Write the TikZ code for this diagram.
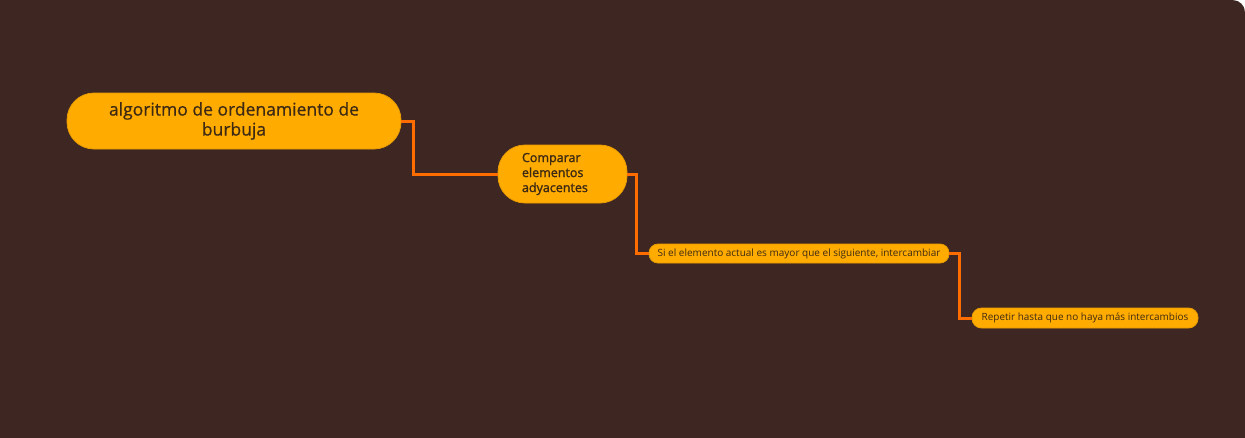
\documentclass[tikz,border=0pt]{standalone}
\usepackage{fontspec}
\setmainfont{Open Sans}
\newfontfamily\semib[FakeBold=1.5]{Open Sans}
\newfontfamily\medium[FakeBold=0.6]{Open Sans}
\definecolor{bg}{HTML}{3E2723}
\definecolor{amber}{HTML}{FFAB00}
\definecolor{amberedge}{HTML}{E89C00}
\definecolor{link}{HTML}{FF6D00}
\definecolor{txt}{HTML}{3E2A14}
\tikzset{
  topic/.style={fill=amber, draw=amberedge, line width=0.8pt, text=txt, inner sep=0pt},
  conn/.style={draw=link, line width=3pt, line join=miter}
}
\begin{document}
\begin{tikzpicture}[x=1pt,y=-1pt]
\useasboundingbox (0,0) rectangle (1245,437);
\fill[bg] (-6,-6) rectangle (1251,443);
\fill[white] (1233,-6) -- (1233,0) arc (-90:0:12) -- (1251,12) -- (1251,-6) -- cycle;

\node[topic, minimum width=334pt, minimum height=56pt, rounded corners=27pt, align=center,
      font=\medium\fontsize{17.5}{20}\selectfont] (n1) at (234,121)
      {algoritmo de ordenamiento de\\burbuja};
\node[topic, minimum width=129pt, minimum height=58pt, rounded corners=27pt, align=left,
      text width=81pt, font=\semib\fontsize{12.5}{15}\selectfont] (n2) at (562.5,174)
      {Comparar\\elementos\\adyacentes};
\node[topic, minimum width=300pt, minimum height=19pt, rounded corners=9pt,
      font=\fontsize{10}{11}\selectfont] (n3) at (799,253.5)
      {Si el elemento actual es mayor que el siguiente, intercambiar};
\node[topic, minimum width=226pt, minimum height=20pt, rounded corners=9.5pt,
      font=\fontsize{9.95}{11}\selectfont] (n4) at (1085,318)
      {Repetir hasta que no haya más intercambios};

\draw[conn] (n1.east) -- ++(12,0) |- (n2.west);
\draw[conn] (n2.east) -- ++(9,0) |- (n3.west);
\draw[conn] (n3.east) -- ++(10,0) |- (n4.west);
\end{tikzpicture}
\end{document}
